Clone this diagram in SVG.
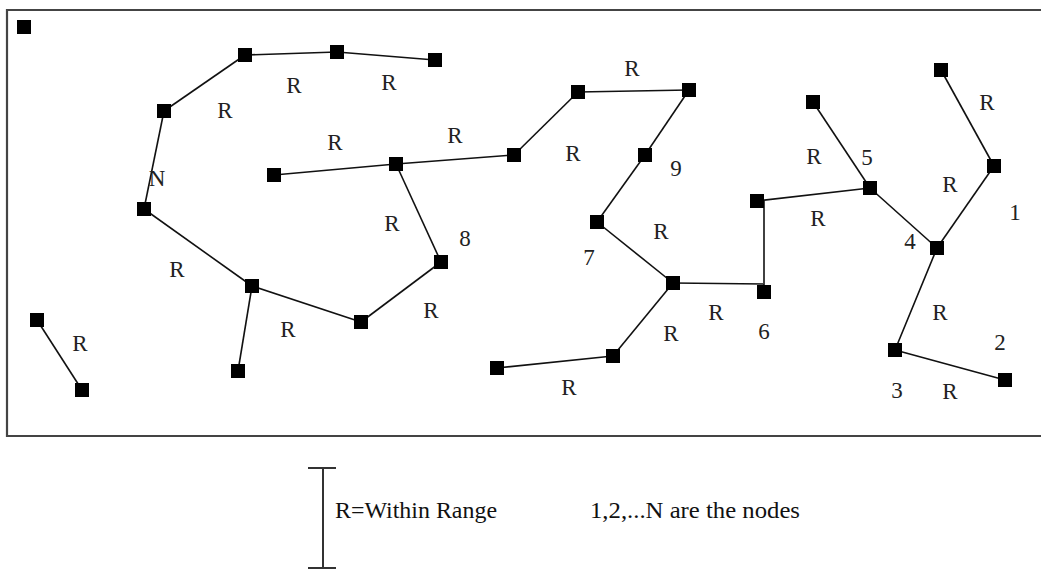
<svg xmlns="http://www.w3.org/2000/svg" width="1041" height="570" viewBox="0 0 1041 570">
<style>
.n{fill:#000}
.e{stroke:#111;stroke-width:1.6;fill:none}
.t{font-family:"Liberation Serif","Times New Roman",serif;font-size:23px;fill:#222;text-anchor:middle}
.lg{font-family:"Liberation Serif","Times New Roman",serif;font-size:23px;fill:#111}
</style>
<rect x="0" y="0" width="1041" height="570" fill="#fff"/>
<path d="M1045 10 H7 V436 H1045" fill="none" stroke="#444" stroke-width="2.2"/>
<g id="connectors" class="e">
<line x1="245" y1="55" x2="164" y2="111"/>
<line x1="245" y1="55" x2="337" y2="52"/>
<line x1="337" y1="52" x2="435" y2="60"/>
<line x1="164" y1="111" x2="144" y2="209"/>
<line x1="144" y1="209" x2="252" y2="286"/>
<line x1="252" y1="286" x2="238" y2="371"/>
<line x1="252" y1="286" x2="361" y2="322"/>
<line x1="361" y1="322" x2="441" y2="262"/>
<line x1="441" y1="262" x2="396" y2="164"/>
<line x1="274" y1="175" x2="396" y2="164"/>
<line x1="396" y1="164" x2="514" y2="155"/>
<line x1="514" y1="155" x2="578" y2="92"/>
<line x1="578" y1="92" x2="689" y2="90"/>
<line x1="689" y1="90" x2="645" y2="155"/>
<line x1="645" y1="155" x2="597" y2="222"/>
<line x1="597" y1="222" x2="673" y2="283"/>
<line x1="673" y1="283" x2="613" y2="356"/>
<line x1="613" y1="356" x2="497" y2="368"/>
<line x1="673" y1="283" x2="764" y2="284"/>
<line x1="764" y1="292" x2="764" y2="201"/>
<line x1="757" y1="201" x2="870" y2="188"/>
<line x1="870" y1="188" x2="813" y2="102"/>
<line x1="870" y1="188" x2="937" y2="248"/>
<line x1="937" y1="248" x2="994" y2="166"/>
<line x1="994" y1="166" x2="941" y2="70"/>
<line x1="937" y1="248" x2="895" y2="350"/>
<line x1="895" y1="350" x2="1005" y2="380"/>
<line x1="37" y1="320" x2="82" y2="390"/>
</g>
<g id="nodes" class="n">
<rect id="n0" x="17" y="20" width="14" height="14"/>
<rect id="n1" x="157" y="104" width="14" height="14"/>
<rect id="n2" x="238" y="48" width="14" height="14"/>
<rect id="n3" x="330" y="45" width="14" height="14"/>
<rect id="n4" x="428" y="53" width="14" height="14"/>
<rect id="nN" x="137" y="202" width="14" height="14"/>
<rect id="n6" x="267" y="168" width="14" height="14"/>
<rect id="n7" x="389" y="157" width="14" height="14"/>
<rect id="n8" x="507" y="148" width="14" height="14"/>
<rect id="n9" x="571" y="85" width="14" height="14"/>
<rect id="n10" x="682" y="83" width="14" height="14"/>
<rect id="node9" x="638" y="148" width="14" height="14"/>
<rect id="node7" x="590" y="215" width="14" height="14"/>
<rect id="n13" x="666" y="276" width="14" height="14"/>
<rect id="node8" x="434" y="255" width="14" height="14"/>
<rect id="n15" x="354" y="315" width="14" height="14"/>
<rect id="n16" x="245" y="279" width="14" height="14"/>
<rect id="n17" x="231" y="364" width="14" height="14"/>
<rect id="n18" x="30" y="313" width="14" height="14"/>
<rect id="n19" x="75" y="383" width="14" height="14"/>
<rect id="n20" x="490" y="361" width="14" height="14"/>
<rect id="n21" x="606" y="349" width="14" height="14"/>
<rect id="node6" x="757" y="285" width="14" height="14"/>
<rect id="n23" x="750" y="194" width="14" height="14"/>
<rect id="node5" x="863" y="181" width="14" height="14"/>
<rect id="n25" x="806" y="95" width="14" height="14"/>
<rect id="n26" x="934" y="63" width="14" height="14"/>
<rect id="node1" x="987" y="159" width="14" height="14"/>
<rect id="node4" x="930" y="241" width="14" height="14"/>
<rect id="node3" x="888" y="343" width="14" height="14"/>
<rect id="node2" x="998" y="373" width="14" height="14"/>
</g>
<g id="labels" class="t">
<text x="225" y="118">R</text>
<text x="294" y="93">R</text>
<text x="389" y="90">R</text>
<text x="335" y="150">R</text>
<text x="455" y="143">R</text>
<text x="632" y="76">R</text>
<text x="573" y="161">R</text>
<text x="676" y="176">9</text>
<text x="157" y="186">N</text>
<text x="392" y="231">R</text>
<text x="465" y="246">8</text>
<text x="177" y="277">R</text>
<text x="288" y="337">R</text>
<text x="431" y="318">R</text>
<text x="80" y="351">R</text>
<text x="661" y="239">R</text>
<text x="589" y="265">7</text>
<text x="671" y="341">R</text>
<text x="716" y="320">R</text>
<text x="764" y="339">6</text>
<text x="569" y="395">R</text>
<text x="814" y="164">R</text>
<text x="867" y="165">5</text>
<text x="987" y="110">R</text>
<text x="950" y="192">R</text>
<text x="1015" y="220">1</text>
<text x="818" y="226">R</text>
<text x="910" y="249">4</text>
<text x="940" y="320">R</text>
<text x="1000" y="350">2</text>
<text x="897" y="398">3</text>
<text x="950" y="399">R</text>
</g>
<g id="legend">
<g stroke="#333" stroke-width="2">
<line x1="323" y1="468" x2="323" y2="568"/>
<line x1="308" y1="468" x2="336" y2="468"/>
<line x1="308" y1="568" x2="336" y2="568"/>
</g>
<text class="lg" x="335" y="518" textLength="162" lengthAdjust="spacingAndGlyphs">R=Within Range</text>
<text class="lg" x="590" y="518" textLength="210" lengthAdjust="spacingAndGlyphs">1,2,...N are the nodes</text>
</g>
</svg>
